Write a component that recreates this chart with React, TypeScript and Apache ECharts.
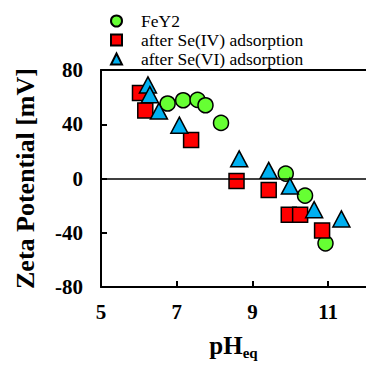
import React, { useEffect, useRef } from "react";
import * as echarts from "echarts";

const seriesNames = ["FeY2", "after Se(IV) adsorption", "after Se(VI) adsorption"];

const feY2: [number, number][] = [
  [6.76, 55.3], [7.17, 57.7], [7.55, 58], [7.76, 54], [8.17, 41],
  [9.88, 3.6], [10.39, -12.6], [10.93, -47.8],
];
const seIV: [number, number][] = [
  [6.03, 63], [6.17, 50.2], [7.38, 28.4], [8.58, -1.9], [9.43, -8.5],
  [9.96, -26.7], [10.26, -26.7], [10.84, -38.3],
];
const seVI: [number, number][] = [
  [6.24, 69], [6.29, 61.8], [6.53, 49.7], [7.07, 39.3], [8.65, 14.5],
  [9.43, 6], [9.99, -5.6], [10.63, -23], [11.35, -29.8],
];

const xMin = 5, xMax = 12, xStep = 2;
const yMin = -80, yMax = 80, yStep = 40;

const FONT = "Liberation Serif";

export default function App() {
  const ref = useRef<HTMLDivElement>(null);
  useEffect(() => {
    if (!ref.current) return;
    const chart = echarts.init(ref.current, null, { renderer: "svg" });
    const mk = (name: string, data: [number, number][], symbol: string, color: string, size: any) => ({
      type: "scatter",
      name,
      data,
      symbol,
      symbolSize: size,
      itemStyle: { color, borderColor: "#000", borderWidth: 1.5, opacity: 1 },
      emphasis: { disabled: true },
    });
    const s0: any = mk(seriesNames[0], feY2, "circle", "#66ff33", 15);
    s0.markLine = {
      silent: true,
      symbol: "none",
      label: { show: false },
      lineStyle: { color: "#000", width: 1.5, type: "solid" },
      data: [{ yAxis: 0 }],
    };
    chart.setOption({
      animation: false,
      textStyle: { fontFamily: FONT },
      grid: { left: 101, top: 70, width: 273, height: 220 },
      legend: {
        orient: "vertical",
        left: 105,
        top: 7,
        itemWidth: 11,
        itemHeight: 11,
        itemGap: 1,
        data: [
          { name: seriesNames[0], icon: "circle" },
          { name: seriesNames[1], icon: "rect" },
          { name: seriesNames[2], icon: "triangle" },
        ],
        textStyle: {
          fontFamily: FONT,
          fontSize: 17.5,
          color: "#000",
          lineHeight: 16.5,
          padding: [0, 0, 0, 14],
        },
      },
      xAxis: [
        {
          type: "value",
          min: xMin,
          max: xMax,
          interval: xStep,
          position: "bottom",
          name: "{a|pH}{b|eq}",
          nameLocation: "middle",
          nameGap: 44,
          nameTextStyle: {
            rich: {
              a: { fontFamily: FONT, fontSize: 25, fontWeight: "bold", color: "#000" },
              b: { fontFamily: FONT, fontSize: 15, fontWeight: "bold", color: "#000", padding: [14, 0, 0, 0] },
            },
          },
          axisLine: { show: true, onZero: false, lineStyle: { color: "#000", width: 2 } },
          axisTick: { show: true, inside: true, length: 6, lineStyle: { color: "#000", width: 2 } },
          axisLabel: {
            showMaxLabel: false,
            margin: 14,
            fontFamily: FONT,
            fontSize: 21,
            fontWeight: "bold",
            color: "#000",
            formatter: (v: number) => (v >= xMax ? "" : String(v)),
          },
          splitLine: { show: false },
        },
        {
          type: "value",
          min: xMin,
          max: xMax,
          position: "top",
          axisLine: { show: true, onZero: false, lineStyle: { color: "#000", width: 2 } },
          axisTick: { show: false },
          axisLabel: { show: false },
          splitLine: { show: false },
        },
      ],
      yAxis: {
        type: "value",
        min: yMin,
        max: yMax,
        interval: yStep,
        name: "Zeta Potential [mV]",
        nameLocation: "middle",
        nameGap: 63,
        nameTextStyle: { fontFamily: FONT, fontSize: 26, fontWeight: "bold", color: "#000" },
        axisLine: { show: true, onZero: false, lineStyle: { color: "#000", width: 2 } },
        axisTick: { show: true, inside: true, length: 6, lineStyle: { color: "#000", width: 2 } },
        axisLabel: { margin: 18, fontFamily: FONT, fontSize: 21, fontWeight: "bold", color: "#000" },
        splitLine: { show: false },
      },
      series: [
        s0,
        mk(seriesNames[1], seIV, "rect", "#ff0000", 15),
        mk(seriesNames[2], seVI, "triangle", "#00b0f0", [17, 16]),
      ],
    });
    return () => chart.dispose();
  }, []);
  return (
    <div
      ref={ref}
      style={{ position: "fixed", left: 0, top: 0, width: 366, height: 365, background: "#fff" }}
    />
  );
}
